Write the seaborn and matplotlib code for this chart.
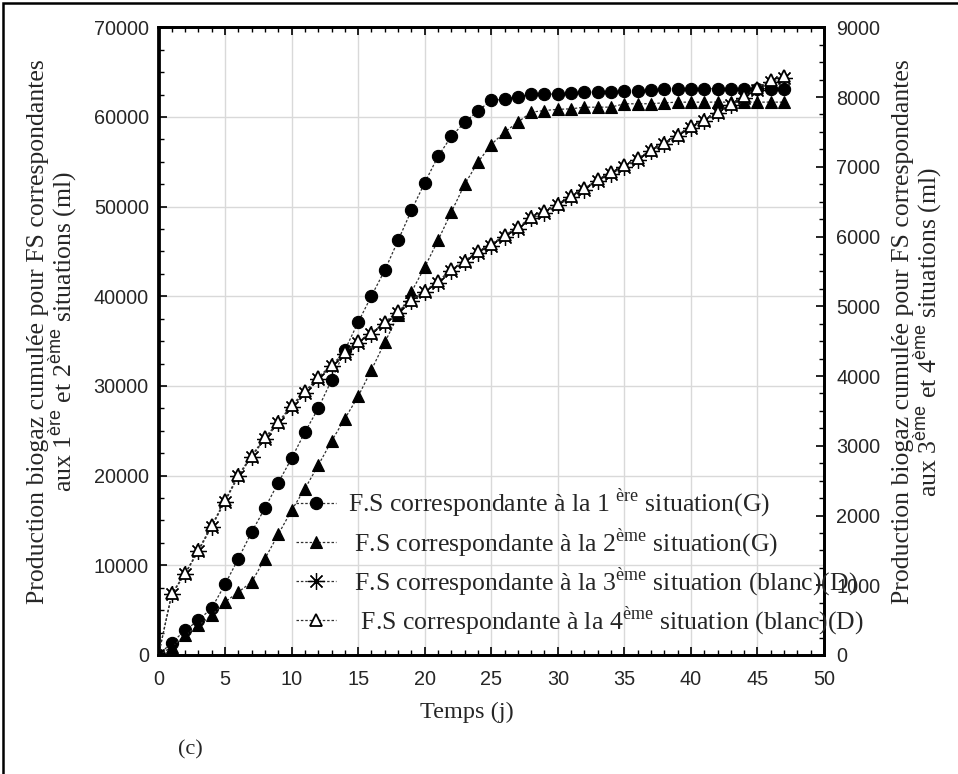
import matplotlib
matplotlib.use("Agg")
import matplotlib.pyplot as plt
import matplotlib.ticker as mticker
from matplotlib.patches import Rectangle
import seaborn as sns

# ---------------- data ----------------
days = list(range(0, 48))

s1_circle = [0, 1380, 2750, 3870, 5240, 7880, 10750, 13710, 16390, 19220,
             21930, 24850, 27500, 30650, 34000, 37100, 40050, 42900, 46230, 49570,
             52660, 55600, 57830, 59390, 60690, 61840, 61980, 62280, 62540, 62540,
             62560, 62650, 62770, 62770, 62780, 62950, 62950, 62960, 63140, 63140,
             63140, 63150, 63150, 63150, 63160, 63160, 63170, 63170]

s2_triangle = [0, 900, 2190, 3310, 4430, 5910, 7020, 8140, 10750, 13460,
               16130, 18550, 21150, 23850, 26350, 28840, 31800, 34850, 37870, 40470,
               43250, 46230, 49390, 52480, 54960, 56930, 58310, 59420, 60530, 60720,
               60850, 60910, 61090, 61090, 61100, 61470, 61470, 61480, 61580, 61650,
               61650, 61650, 61660, 61650, 61660, 61650, 61660, 61650]

s3_star = [0, 870, 1160, 1490, 1840, 2200, 2560, 2840, 3100, 3320,
           3560, 3760, 3960, 4140, 4320, 4480, 4600, 4750, 4910, 5070,
           5200, 5340, 5510, 5630, 5770, 5870, 6000, 6110, 6260, 6340,
           6450, 6560, 6670, 6800, 6900, 7000, 7100, 7220, 7320, 7440,
           7560, 7650, 7770, 7880, 7990, 8100, 8210, 8270]

s4_open_tri = [0, 885, 1170, 1510, 1860, 2220, 2580, 2860, 3120, 3340,
               3580, 3780, 3980, 4160, 4340, 4500, 4620, 4770, 4930, 5090,
               5220, 5360, 5530, 5650, 5790, 5890, 6020, 6130, 6280, 6360,
               6470, 6580, 6690, 6820, 6920, 7020, 7120, 7240, 7340, 7460,
               7580, 7670, 7790, 7900, 8010, 8130, 8250, 8300]

labels = [
    r"F.S correspondante à la 1 $^{\mathrm{ère}}$ situation(G)",
    r" F.S correspondante à la 2$^{\mathrm{ème}}$ situation(G)",
    r" F.S correspondante à la 3$^{\mathrm{ème}}$ situation (blanc)(D)",
    r"  F.S correspondante à la 4$^{\mathrm{ème}}$ situation (blanc)(D)",
]
xlabel = "Temps (j)"
ylabel_left = ("Production biogaz cumulée pour FS correspondantes\n"
               r"aux 1$^{\mathsf{ère}}$ et 2$^{\mathsf{ème}}$ situations (ml)")
ylabel_right = ("Production biogaz cumulée pour FS correspondantes\n"
                r"aux 3$^{\mathsf{ème}}$ et 4$^{\mathsf{ème}}$ situations (ml)")
panel_label = "(c)"

# ---------------- style ----------------
sns.set_theme(style="white")
plt.rcParams["font.family"] = ["Liberation Serif", "DejaVu Serif"]
plt.rcParams["mathtext.fontset"] = "custom"
plt.rcParams["mathtext.rm"] = "Liberation Serif"
plt.rcParams["mathtext.sf"] = "Liberation Sans"

W, H = 958, 774
fig = plt.figure(figsize=(W / 100, H / 100), dpi=100)
ax = fig.add_axes([158.5 / W, 1 - 655 / H, (824 - 158.5) / W, (655 - 27.3) / H])
ax2 = ax.twinx()

line_kw = dict(color="#303030", linestyle=(0, (2, 1.5)), linewidth=0.9)

sns.lineplot(x=days, y=s1_circle, ax=ax, marker="o", markersize=8.8,
             markerfacecolor="black", markeredgecolor="black", markeredgewidth=0.8,
             label=labels[0], legend=False, **line_kw)
sns.lineplot(x=days, y=s2_triangle, ax=ax, marker="^", markersize=9,
             markerfacecolor="black", markeredgecolor="black", markeredgewidth=0.8,
             label=labels[1], legend=False, **line_kw)
sns.lineplot(x=days, y=s3_star, ax=ax2, marker=(8, 2, 0), markersize=12,
             markerfacecolor="black", markeredgecolor="black", markeredgewidth=0.9,
             label=labels[2], legend=False, **line_kw)
sns.lineplot(x=days, y=s4_open_tri, ax=ax2, marker="^", markersize=9,
             markerfacecolor="white", markeredgecolor="black", markeredgewidth=1.3,
             label=labels[3], legend=False, **line_kw)

# axes limits and ticks
ax.set_xlim(0, 50)
ax.set_ylim(0, 70000)
ax2.set_ylim(0, 9000)
ax.xaxis.set_major_locator(mticker.MultipleLocator(5))
ax.xaxis.set_minor_locator(mticker.MultipleLocator(1))
ax.yaxis.set_major_locator(mticker.MultipleLocator(10000))
ax.yaxis.set_minor_locator(mticker.MultipleLocator(2500))
ax2.yaxis.set_major_locator(mticker.MultipleLocator(1000))
ax2.yaxis.set_minor_locator(mticker.MultipleLocator(250))

ax.grid(True, which="major", color="#d9d9d9", linewidth=1.0)
ax.set_axisbelow(True)
ax2.grid(False)

for a in (ax, ax2):
    for sp in a.spines.values():
        sp.set_color("black")
        sp.set_linewidth(2.0)
ax.tick_params(axis="x", which="major", direction="in", length=6, width=1.2,
               color="black", top=True, bottom=True, pad=11)
ax.tick_params(axis="x", which="minor", direction="in", length=3.5, width=1.0,
               color="black", top=True, bottom=True)
ax.tick_params(axis="y", which="major", direction="in", length=6, width=1.2,
               color="black", left=True, right=False, pad=7)
ax.tick_params(axis="y", which="minor", direction="in", length=3.5, width=1.0,
               color="black", left=True, right=False)
ax2.tick_params(axis="y", which="major", direction="in", length=6, width=1.2,
                color="black", right=True, pad=9)
ax2.tick_params(axis="y", which="minor", direction="in", length=3.5, width=1.0,
                color="black", right=True)
for lab in ax.get_xticklabels() + ax.get_yticklabels() + ax2.get_yticklabels():
    lab.set_fontfamily("Liberation Sans")
    lab.set_fontsize(14.3)

ax.set_xlabel("")
ax.set_ylabel("")
ax2.set_ylabel("")
fig.text(467 / W, 1 - 712 / H, xlabel, ha="center", va="center", fontsize=17.5)
fig.text(190 / W, 1 - 750 / H, panel_label, ha="center", va="center", fontsize=16)
fig.text(53 / W, 1 - 332 / H, ylabel_left, rotation=90, ha="center", va="center",
         fontsize=18.5, linespacing=0.92, multialignment="center")
fig.text(918 / W, 1 - 332 / H, ylabel_right, rotation=90, ha="center", va="center",
         fontsize=18.5, linespacing=0.92, multialignment="center")

# legend (transparent, spilling over the right axis like the original)
h1, l1 = ax.get_legend_handles_labels()
h2, l2 = ax2.get_legend_handles_labels()
leg = fig.legend(h1 + h2, l1 + l2, loc="upper left",
                 bbox_to_anchor=(296 / W, 1 - 487 / H),
                 frameon=False, fontsize=18.5, handlelength=1.55, handletextpad=0.47,
                 labelspacing=0.22, borderaxespad=0, borderpad=0)

# outer frame of the figure
fig.patches.append(Rectangle((3 / W, -0.05), 2.0, 1 - 3 / H + 0.05,
                             transform=fig.transFigure, fill=False,
                             edgecolor="black", linewidth=1.8, zorder=10))

fig.savefig("out.png", dpi=100)
